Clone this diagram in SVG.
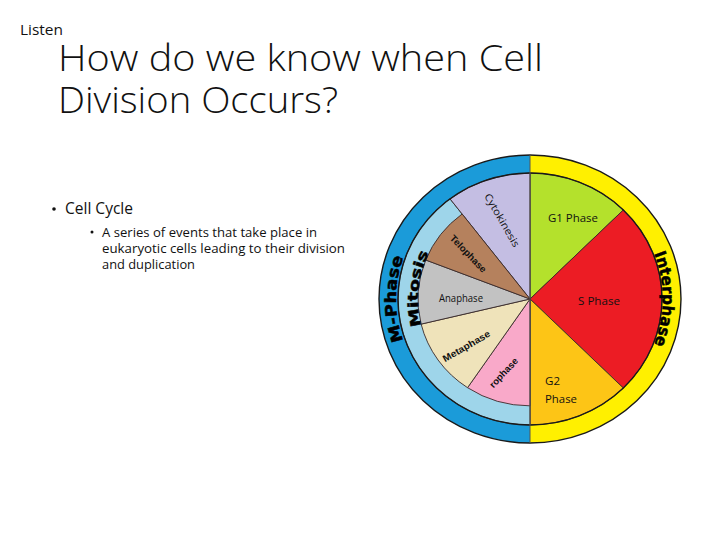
<svg xmlns="http://www.w3.org/2000/svg" width="720" height="540" viewBox="0 0 720 540">
<style>
.sl{stroke:#3a2a2a;stroke-width:0.9;vector-effect:non-scaling-stroke}
.rim{fill:none;stroke:#1a1a1a;stroke-width:1.4;vector-effect:non-scaling-stroke}
.lbl{font-family:"Open Sans","Liberation Sans",sans-serif;font-size:10px;fill:#111}
.lblb{font-family:"Liberation Sans",Arial,sans-serif;font-size:9.5px;font-weight:bold;fill:#111}
.ring{font-family:"DejaVu Sans","Liberation Sans",sans-serif;font-weight:bold;fill:#000;stroke:#000;stroke-width:0.5}
.body{font-family:"Open Sans","Liberation Sans",sans-serif;fill:#111}
.title{font-family:"Open Sans","Liberation Sans",sans-serif;font-weight:300;fill:#111}
</style>
<rect width="720" height="540" fill="#fff"/>
<g id="header">
<text class="body" x="20" y="35" font-size="14" textLength="43" lengthAdjust="spacingAndGlyphs">Listen</text>
<text class="title" x="58" y="71" font-size="36" textLength="485" lengthAdjust="spacingAndGlyphs">How do we know when Cell</text>
<text class="title" x="58" y="113" font-size="36" textLength="280" lengthAdjust="spacingAndGlyphs">Division Occurs?</text>
</g>
<g id="bullets">
<circle cx="54" cy="209" r="1.8" fill="#111"/>
<text class="body" x="65" y="214" font-size="15.5" textLength="68" lengthAdjust="spacingAndGlyphs">Cell Cycle</text>
<circle cx="92" cy="232" r="1.5" fill="#111"/>
<text class="body" x="102" y="237" font-size="12.5" textLength="215" lengthAdjust="spacingAndGlyphs">A series of events that take place in</text>
<text class="body" x="102" y="253" font-size="12.5" textLength="243" lengthAdjust="spacingAndGlyphs">eukaryotic cells leading to their division</text>
<text class="body" x="102" y="269" font-size="12.5" textLength="93" lengthAdjust="spacingAndGlyphs">and duplication</text>
</g>
<g id="cycle">
<g transform="translate(530,299) scale(1,0.954)">
<path d="M0,-151 A151,151 0 0 0 0,151 Z" fill="#1b9bd9"/>
<path d="M0,-151 A151,151 0 0 1 0,151 Z" fill="#fff000"/>
<g id="g1"><path class="sl" d="M0,0 L0,-132 A132,132 0 0 1 93.34,-93.34 Z" fill="#b4e12c"/></g>
<g id="s"><path class="sl" d="M0,0 L93.34,-93.34 A132,132 0 0 1 93.34,93.34 Z" fill="#ec1c24"/></g>
<g id="g2"><path class="sl" d="M0,0 L93.34,93.34 A132,132 0 0 1 0,132 Z" fill="#fdc516"/></g>
<g id="mitosis-ring"><path class="sl" d="M0,0 L0,132 A132,132 0 0 1 -80,-105 Z" fill="#9ed5ea"/></g>
<g id="cytokinesis"><path class="sl" d="M0,0 L-80,-105 A132,132 0 0 1 0,-132 Z" fill="#c4bee3"/></g>
<g id="prophase"><path class="sl" d="M0,0 L0,112 A112,112 0 0 1 -62.46,92.96 Z" fill="#f9a9c9"/></g>
<g id="metaphase"><path class="sl" d="M0,0 L-62.46,92.96 A112,112 0 0 1 -108.87,26.33 Z" fill="#efe3ba"/></g>
<g id="anaphase"><path class="sl" d="M0,0 L-108.87,26.33 A112,112 0 0 1 -104.28,-40.87 Z" fill="#c2c2c2"/></g>
<g id="telophase"><path class="sl" d="M0,0 L-104.28,-40.87 A112,112 0 0 1 -67.87,-89.1 Z" fill="#b5815d"/></g>
<circle class="rim" r="151"/>
<circle class="rim" r="132"/>
<path d="M0,-151 L0,151" stroke="#555" stroke-width="1" vector-effect="non-scaling-stroke"/>
</g>
</g>
<defs>
<path id="arcM" d="M443.8,397 A134,128 0 0 1 443.8,201"/>
<path id="arcMi" d="M458,381 A112,107 0 0 1 458,217"/>
<path id="arcI" d="M615.5,202 A133,127 0 0 1 615.5,396"/>
</defs>
<g id="labels">
<text class="ring" font-size="15.5"><textPath href="#arcM" startOffset="50%" text-anchor="middle" textLength="85" lengthAdjust="spacingAndGlyphs">M-Phase</textPath></text>
<text class="ring" font-size="14"><textPath href="#arcMi" startOffset="55.5%" text-anchor="middle" textLength="75" lengthAdjust="spacingAndGlyphs">Mitosis</textPath></text>
<text class="ring" font-size="16"><textPath href="#arcI" startOffset="50%" text-anchor="middle" textLength="93" lengthAdjust="spacingAndGlyphs">Interphase</textPath></text>
<text class="lbl" font-size="11" text-anchor="middle" transform="translate(499,222) rotate(60)" textLength="60" lengthAdjust="spacingAndGlyphs">Cytokinesis</text>
<text class="lblb" text-anchor="middle" transform="translate(466,256) rotate(46)" textLength="48" lengthAdjust="spacingAndGlyphs">Telophase</text>
<text class="lbl" x="461" y="302" text-anchor="middle" textLength="44" lengthAdjust="spacingAndGlyphs">Anaphase</text>
<text class="lblb" text-anchor="middle" transform="translate(468,349) rotate(-30)" textLength="53" lengthAdjust="spacingAndGlyphs">Metaphase</text>
<text class="lblb" text-anchor="middle" transform="translate(506,375) rotate(-47)" textLength="37" lengthAdjust="spacingAndGlyphs">rophase</text>
<text class="lbl" x="548" y="222" textLength="50" lengthAdjust="spacingAndGlyphs">G1 Phase</text>
<text class="lbl" x="578" y="305" textLength="42" lengthAdjust="spacingAndGlyphs">S Phase</text>
<text class="lbl" x="545" y="385" textLength="15" lengthAdjust="spacingAndGlyphs">G2</text>
<text class="lbl" x="545" y="403" textLength="32" lengthAdjust="spacingAndGlyphs">Phase</text>
</g>
</svg>
